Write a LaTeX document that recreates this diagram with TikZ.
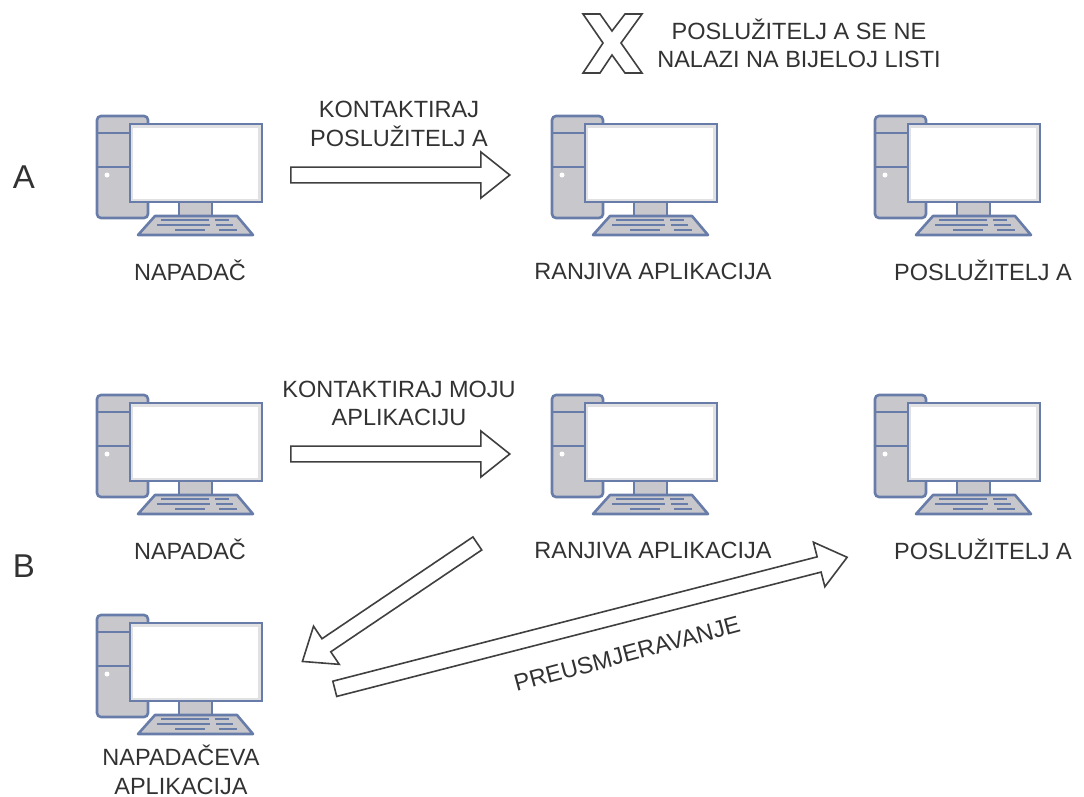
\documentclass[tikz,border=0pt]{standalone}
\usepackage{fontspec}
\usetikzlibrary{shapes.arrows}
\setmainfont{Liberation Sans}
\definecolor{pcblue}{RGB}{104,124,170}
\definecolor{pcgray}{RGB}{200,200,204}
\definecolor{txtgray}{RGB}{50,50,50}
\tikzset{
  lbl/.style={text=txtgray,font=\fontsize{23.5}{28.5}\selectfont,align=center,inner sep=0pt},
  bigslovo/.style={text=txtgray,font=\fontsize{33}{33}\selectfont,inner sep=0pt},
  bigarrow/.style={single arrow,draw=black!75,line width=1.6pt,fill=white,inner sep=7pt,
    single arrow head extend=15pt,single arrow tip angle=77,minimum width=46pt,anchor=tail},
  pc/.pic={
    \draw[pcblue,line width=2.6pt,fill=pcgray,rounded corners=4pt] (0,0) rectangle (51,102);
    \draw[pcblue,line width=2.6pt] (0,17) -- (33,17);
    \draw[pcblue,line width=2.6pt] (0,51) -- (33,51);
    \fill[white] (10,59) circle (2.5pt);
    \draw[pcblue,line width=2.6pt,fill=pcgray] (82,86) rectangle (115,100);
    \draw[pcblue,line width=2.6pt,fill=pcgray,line join=round] (58,100) -- (140,100) -- (156,119) -- (41,119) -- cycle;
    \draw[pcblue,line width=1.6pt] (64,104) -- (112,104);
    \draw[pcblue,line width=1.6pt] (118,104) -- (132,104);
    \draw[pcblue,line width=1.6pt] (60,109) -- (113,109);
    \draw[pcblue,line width=1.6pt] (119,109) -- (136,109);
    \draw[pcblue,line width=1.6pt] (78,114) -- (108,114);
    \draw[pcblue,line width=1.6pt] (122,114) -- (140,114);
    \draw[pcblue,line width=2.6pt,fill=pcgray!55] (33,8) rectangle (165,86);
    \fill[white] (36,12) rectangle (161,83);
  }
}
\begin{document}
\begin{tikzpicture}[x=1pt,y=-1pt]
  \useasboundingbox (0,0) rectangle (1084,796);
  % red A
  \pic (napadacA) at (97,116) {pc};
  \pic (ranjivaA) at (552,116) {pc};
  \pic (posluziteljA) at (875,116) {pc};
  % red B
  \pic (napadacB) at (97,395) {pc};
  \pic (ranjivaB) at (552,395) {pc};
  \pic (posluziteljB) at (875,395) {pc};
  \pic (aplikacija) at (97,615) {pc};
  \node[bigslovo] (slovoA) at (24,177) {A};
  \node[bigslovo] (slovoB) at (24,566) {B};
  \node[lbl] (txtA1) at (190,270) {NAPADAČ};
  \node[lbl] (txtA2) at (653,271) {RANJIVA APLIKACIJA};
  \node[lbl] (txtA3) at (983,270) {POSLUŽITELJ A};
  \node[lbl] (txtB1) at (190,549) {NAPADAČ};
  \node[lbl] (txtB2) at (653,550) {RANJIVA APLIKACIJA};
  \node[lbl] (txtB3) at (983,549) {POSLUŽITELJ A};
  \node[lbl] (txtC) at (181,770) {NAPADAČEVA\\APLIKACIJA};
  \node[lbl] (poruka1) at (399,124) {KONTAKTIRAJ\\POSLUŽITELJ A};
  \node[lbl] (poruka2) at (399,403.5) {KONTAKTIRAJ MOJU\\APLIKACIJU};
  \node[lbl] (bijela) at (799,43.5) {POSLUŽITELJ A SE NE\\NALAZI NA BIJELOJ LISTI};
  \node[lbl,rotate=15] (preusm) at (627,654) {PREUSMJERAVANJE};
  \node[bigarrow,minimum height=219pt] (str1) at (290,175) {};
  \node[bigarrow,minimum height=219pt] (str2) at (290,454) {};
  \node[bigarrow,minimum height=211pt,rotate=214] (str3) at (478,543) {};
  \node[bigarrow,minimum height=529pt,rotate=14.4] (str4) at (334,689) {};
  \draw[draw=black!75,line width=1.6pt,fill=white] (583,14) -- (600,14) -- (612,31) -- (625,14) -- (642,14) -- (621,43) -- (642,73) -- (625,73) -- (612,55) -- (600,73) -- (583,73) -- (603,43) -- cycle;
\end{tikzpicture}
\end{document}
